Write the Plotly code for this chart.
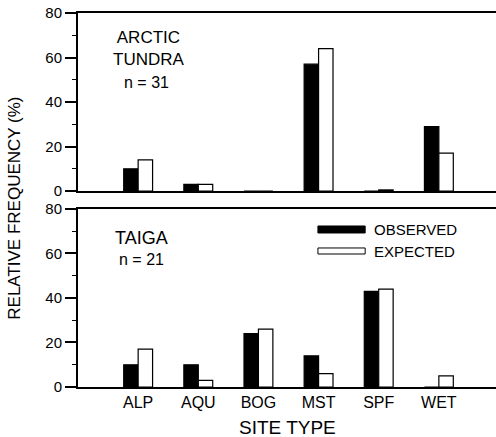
import plotly.graph_objects as go
from plotly.subplots import make_subplots

categories = ["ALP", "AQU", "BOG", "MST", "SPF", "WET"]
tundra_observed = [10, 3, 0, 57, 0, 29]
tundra_expected = [14, 3, 0, 64, 0.5, 17]
taiga_observed = [10, 10, 24, 14, 43, 0]
taiga_expected = [17, 3, 26, 6, 44, 5]
y_ticks = [0, 20, 40, 60, 80]

FONT = "Liberation Sans"

fig = make_subplots(rows=2, cols=1, shared_xaxes=False, vertical_spacing=0.048)

def add_pair(obs, exp, row):
    fig.add_trace(go.Bar(x=categories, y=obs, name="OBSERVED",
                         marker=dict(color="black", line=dict(color="black", width=1.2)),
                         showlegend=False), row=row, col=1)
    fig.add_trace(go.Bar(x=categories, y=exp, name="EXPECTED",
                         marker=dict(color="white", line=dict(color="black", width=1.2)),
                         showlegend=False), row=row, col=1)

add_pair(tundra_observed, tundra_expected, 1)
add_pair(taiga_observed, taiga_expected, 2)

xcommon = dict(range=[-1, 5.95], showline=True, linewidth=2, linecolor="black",
               mirror=True, showgrid=False, zeroline=False, type="category",
               categoryorder="array", categoryarray=categories)
fig.update_xaxes(**xcommon, showticklabels=False, ticks="", row=1, col=1)
fig.update_xaxes(**xcommon, showticklabels=True, ticks="",
                 tickfont=dict(family=FONT, size=16, color="black"), row=2, col=1)

ycommon = dict(range=[0, 80], tickvals=y_ticks, ticktext=[str(v) for v in y_ticks],
               showline=True, linewidth=2, linecolor="black", showgrid=False,
               zeroline=False, ticks="outside", ticklen=11, tickwidth=1.5, tickcolor="black",
               tickfont=dict(family=FONT, size=15, color="black"),
               minor=dict(ticks="outside", ticklen=4, dtick=10, tickwidth=1.2, tickcolor="black", showgrid=False))
fig.update_yaxes(**ycommon, row=1, col=1)
fig.update_yaxes(**ycommon, row=2, col=1)

fig.update_layout(
    width=496, height=437,
    margin=dict(l=78, r=0, t=13, b=50),
    barmode="group", bargap=0.52, bargroupgap=0,
    plot_bgcolor="white", paper_bgcolor="white",
    font=dict(family=FONT, color="black"),
)
fig.update_yaxes(domain=[0.524, 1.0], row=1, col=1)
fig.update_yaxes(domain=[0.0, 0.476], row=2, col=1)

ann = [
    dict(text="ARCTIC<br>TUNDRA", x=0.168, y=0.906, size=17),
    dict(text="n = 31", x=0.163, y=0.8155, size=16),
    dict(text="TAIGA", x=0.151, y=0.398, size=18),
    dict(text="n = 21", x=0.153, y=0.342, size=16),
    dict(text="OBSERVED", x=0.704, y=0.4211, size=15, xanchor="left"),
    dict(text="EXPECTED", x=0.704, y=0.3636, size=15, xanchor="left"),
    dict(text="SITE TYPE", x=0.502, y=-0.107, size=19),
]
for a in ann:
    fig.add_annotation(text=a["text"], x=a["x"], y=a["y"], xref="paper", yref="paper",
                       xanchor=a.get("xanchor", "center"), yanchor="middle",
                       showarrow=False, font=dict(family=FONT, size=a["size"], color="black"))

fig.add_annotation(text="RELATIVE FREQUENCY (%)", x=-0.151, y=0.479, xref="paper", yref="paper",
                   textangle=-90, showarrow=False, xanchor="center", yanchor="middle",
                   font=dict(family=FONT, size=17, color="black"))

# legend swatches (drawn legend)
fig.add_shape(type="rect", xref="paper", yref="paper", x0=0.574, x1=0.687, y0=0.4118, y1=0.4305,
              fillcolor="black", line=dict(color="black", width=1))
fig.add_shape(type="rect", xref="paper", yref="paper", x0=0.574, x1=0.687, y0=0.3556, y1=0.3717,
              fillcolor="white", line=dict(color="black", width=1))

fig.write_html("out.html", config={"displayModeBar": False},
               post_script="document.body.style.margin='0';document.body.style.overflow='hidden';")
